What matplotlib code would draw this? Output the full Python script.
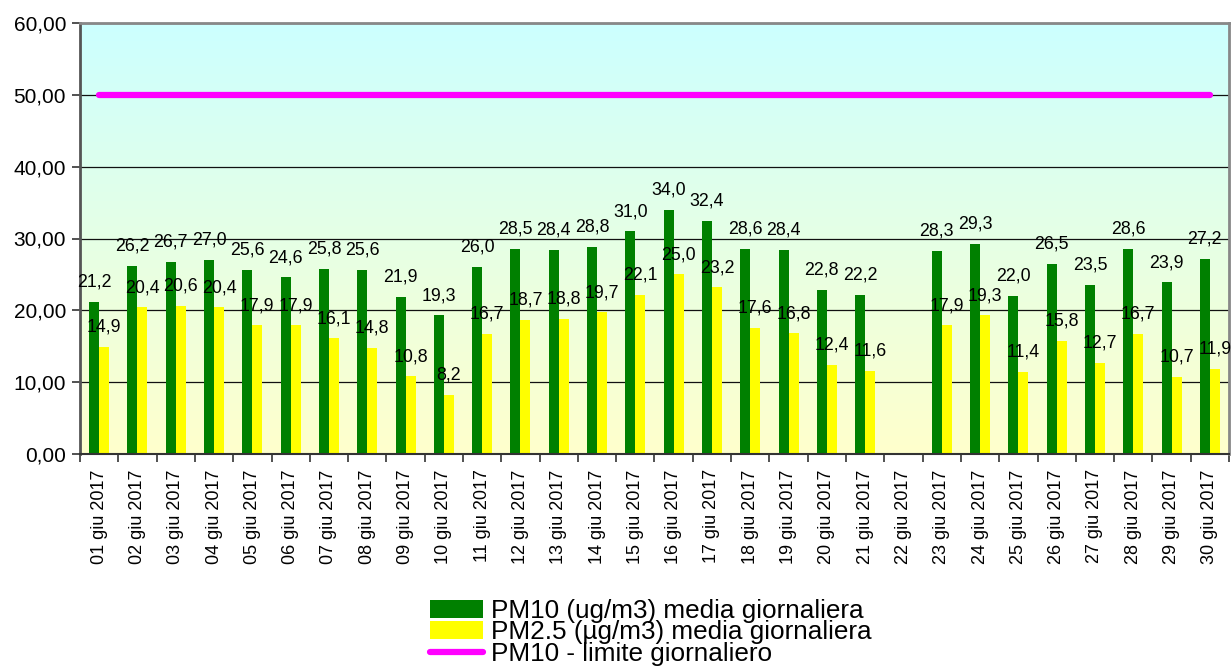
import numpy as np
import matplotlib
matplotlib.use("Agg")
import matplotlib.pyplot as plt
from matplotlib.colors import LinearSegmentedColormap
from matplotlib.lines import Line2D
from matplotlib.patches import Patch

# Dati giornalieri giugno 2017
giorni = ["%02d giu 2017" % g for g in range(1, 31)]
pm10 = [21.2, 26.2, 26.7, 27.0, 25.6, 24.6, 25.8, 25.6, 21.9, 19.3,
        26.0, 28.5, 28.4, 28.8, 31.0, 34.0, 32.4, 28.6, 28.4, 22.8,
        22.2, np.nan, 28.3, 29.3, 22.0, 26.5, 23.5, 28.6, 23.9, 27.2]
pm25 = [14.9, 20.4, 20.6, 20.4, 17.9, 17.9, 16.1, 14.8, 10.8, 8.2,
        16.7, 18.7, 18.8, 19.7, 22.1, 25.0, 23.2, 17.6, 16.8, 12.4,
        11.6, np.nan, 17.9, 19.3, 11.4, 15.8, 12.7, 16.7, 10.7, 11.9]
limite = [50.0] * 30

etichette_serie = ["PM10 (ug/m3) media giornaliera",
                   "PM2.5 (µg/m3) media giornaliera",
                   "PM10 - limite giornaliero"]

plt.rcParams['font.family'] = ['Liberation Sans', 'DejaVu Sans']

fig = plt.figure(figsize=(12.32, 6.7), dpi=100)
ax = fig.add_axes([80 / 1232, 1 - 454 / 670, 1149 / 1232, 431 / 670])

x = np.arange(len(giorni))
larghezza = 0.26

# sfondo sfumato ciano -> giallo chiaro
cmap = LinearSegmentedColormap.from_list("sfondo", ["#FFFFCC", "#CCFFFF"])
grad = np.linspace(0, 1, 256).reshape(-1, 1)
ax.imshow(grad, extent=[-0.5, len(giorni) - 0.5, 0, 60], origin="lower",
          aspect="auto", cmap=cmap, zorder=0)

ax.set_axisbelow(True)
ax.yaxis.grid(True, color="#111111", linewidth=0.9, zorder=0.5)

ax.bar(x - larghezza / 2, pm10, larghezza, color="#008000", zorder=2)
ax.bar(x + larghezza / 2, pm25, larghezza, color="#FFFF00", zorder=2)
ax.plot(x, limite, color="#FF00FF", linewidth=4.5, solid_capstyle="round", zorder=3)

for i in range(len(giorni)):
    for xv, v in ((x[i] - larghezza / 2, pm10[i]), (x[i] + larghezza / 2, pm25[i])):
        if np.isnan(v):
            continue
        ax.annotate(("%.1f" % v).replace(".", ","), (xv, v), xytext=(0, 11),
                    textcoords="offset points", ha="center", va="baseline",
                    fontsize=12.8, zorder=4)

ax.set_xlim(-0.5, len(giorni) - 0.5)
ax.set_ylim(0, 60)
ax.set_yticks(np.arange(0, 61, 10))
ax.set_yticklabels([("%.2f" % v).replace(".", ",") for v in np.arange(0, 61, 10)], fontsize=15)
ax.tick_params(axis="y", length=6, width=1.2, color="#333333", pad=4)

ax.set_xticks(x)
ax.set_xticklabels(giorni, rotation=90, fontsize=13)
ax.set_xticks(np.arange(-0.5, len(giorni)), minor=True)
ax.tick_params(axis="x", which="major", length=0, pad=11)
ax.tick_params(axis="x", which="minor", length=6, width=1.2, color="#333333")

ax.spines["left"].set_color("#555555")
ax.spines["left"].set_linewidth(2)
ax.spines["bottom"].set_color("#333333")
ax.spines["bottom"].set_linewidth(1.5)
for s in ("top", "right"):
    ax.spines[s].set_color("#888888")
    ax.spines[s].set_linewidth(2)

handles = [Patch(facecolor="#008000"), Patch(facecolor="#FFFF00"),
           Line2D([0], [0], color="#FF00FF", linewidth=4.5, solid_capstyle="round")]
fig.legend(handles, etichette_serie, loc="upper center", bbox_to_anchor=(0.528, 0.106),
           frameon=False, fontsize=18.8, handlelength=2.05, handleheight=0.65,
           handletextpad=0.3, labelspacing=-0.1, borderaxespad=0, borderpad=0)

fig.savefig("out.png", dpi=100)
